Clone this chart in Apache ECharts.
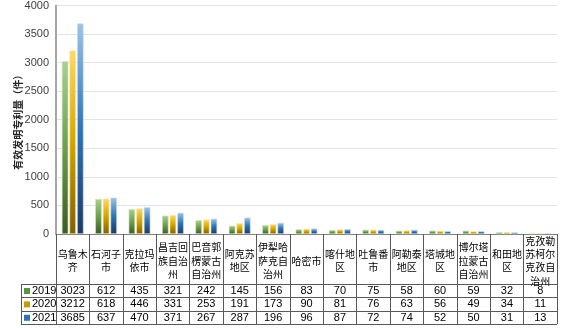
<!DOCTYPE html>
<html>
<head>
<meta charset="utf-8">
<script src="https://cdn.jsdelivr.net/npm/echarts@6/dist/echarts.min.js"></script>
<style>
  html, body { margin: 0; padding: 0; background: #fff; }
  #chart { width: 564px; height: 328px; }
</style>
</head>
<body>
<div id="chart"></div>
<script>
// Regions of Xinjiang (header labels, wrapped every three characters)
const regions = [
  '乌鲁木\n齐', '石河子\n市', '克拉玛\n依市', '昌吉回\n族自治\n州', '巴音郭\n楞蒙古\n自治州',
  '阿克苏\n地区', '伊犁哈\n萨克自\n治州', '哈密市', '喀什地\n区', '吐鲁番\n市',
  '阿勒泰\n地区', '塔城地\n区', '博尔塔\n拉蒙古\n自治州', '和田地\n区', '克孜勒\n苏柯尔\n克孜自\n治州'
];
const years = ['2019', '2020', '2021'];
// Valid invention patents (件)
const patents2019 = [3023, 612, 435, 321, 242, 145, 156, 83, 70, 75, 58, 60, 59, 32, 8];
const patents2020 = [3212, 618, 446, 331, 253, 191, 173, 90, 81, 76, 63, 56, 49, 34, 11];
const patents2021 = [3685, 637, 470, 371, 267, 287, 196, 96, 87, 72, 74, 52, 50, 31, 13];
const yTicks = { min: 0, max: 4000, interval: 500 };

const FONT = '"Liberation Sans", "Noto Sans CJK SC", sans-serif';
const G = { left: 56, right: 7, top: 4, bottom: 94 };
const W = 564, H = 328;
const axisY = H - G.bottom;            // 234
const rowTop = 284, rowH = 13.4;        // data table rows
const tableLeft = 21, tableRight = W - G.right;

const palette = [
  { top: '#a9d18e', mid: '#6e9f4e', bottom: '#3b5c23', key: '#5a9440', edge: '#d3e8c4' },
  { top: '#ffd966', mid: '#d4a500', bottom: '#7f6000', key: '#c99a00', edge: '#ffe9a8' },
  { top: '#9dc3e6', mid: '#2e75b6', bottom: '#1f3864', key: '#2e75b6', edge: '#cfe1f2' }
];
const seriesData = [patents2019, patents2020, patents2021];

function grad(p) {
  return new echarts.graphic.LinearGradient(0, 0, 0, 1, [
    { offset: 0, color: p.top },
    { offset: 0.5, color: p.mid },
    { offset: 1, color: p.bottom }
  ]);
}

// one hidden-line category axis per table row, carrying the row's numbers
const rowAxes = seriesData.map((vals, i) => ({
  type: 'category',
  gridIndex: 0,
  position: 'bottom',
  offset: rowTop + rowH * (i + 0.5) - axisY,
  data: vals.map(String),
  axisLine: { show: false },
  axisTick: { show: false },
  axisLabel: {
    interval: 0, margin: 0, verticalAlign: 'middle',
    fontSize: 11, color: '#000', fontFamily: FONT
  }
}));

const lines = [];
for (let i = 0; i <= 3; i++) {
  const y = Math.round(rowTop + rowH * i) + 0.5;
  lines.push({ type: 'line', shape: { x1: tableLeft, y1: y, x2: tableRight, y2: y },
    style: { stroke: '#595959', lineWidth: 1 }, silent: true });
}
lines.push({ type: 'line', shape: { x1: tableLeft + 0.5, y1: rowTop, x2: tableLeft + 0.5, y2: Math.round(rowTop + rowH * 3) + 1 },
  style: { stroke: '#595959', lineWidth: 1 }, silent: true });

const option = {
  animation: false,
  backgroundColor: '#fff',
  grid: G,
  legend: {
    orient: 'vertical',
    left: tableLeft + 3,
    top: rowTop + 1,
    padding: 0,
    itemWidth: 6, itemHeight: 6,
    itemGap: 1.4,
    icon: 'rect',
    textStyle: { fontSize: 11, color: '#000', fontFamily: FONT, lineHeight: 12, padding: [0, 0, 0, -3] },
    data: years.map((y, i) => ({ name: y, itemStyle: { color: palette[i].key, borderWidth: 0 } }))
  },
  xAxis: [{
    type: 'category',
    data: regions,
    axisLine: { show: true, lineStyle: { color: '#808080', width: 1 } },
    axisTick: { show: true, interval: 0, length: 90, lineStyle: { color: '#595959', width: 1 } },
    axisLabel: {
      interval: 0, margin: 28, verticalAlign: 'middle',
      fontSize: 10, lineHeight: 13.3, color: '#000', fontFamily: FONT
    }
  }].concat(rowAxes),
  yAxis: {
    type: 'value',
    min: yTicks.min, max: yTicks.max, interval: yTicks.interval,
    name: '有效发明专利量（件）',
    nameLocation: 'middle',
    nameRotate: 90,
    nameGap: 32,
    nameMoveOverlap: false,
    nameTextStyle: { fontSize: 10, color: '#262626', fontFamily: FONT, fontWeight: 'bold' },
    axisLine: { show: true, lineStyle: { color: '#a6a6a6', width: 2 } },
    axisTick: { show: false },
    axisLabel: { fontSize: 11, color: '#404040', fontFamily: FONT, margin: 7, formatter: v => String(v) },
    splitLine: { lineStyle: { color: '#e4e4e4', width: 1 } }
  },
  series: years.map((y, i) => ({
    name: y,
    type: 'bar',
    xAxisIndex: 0,
    data: seriesData[i],
    barCategoryGap: '35%',
    barGap: '18%',
    itemStyle: { color: grad(palette[i]), borderColor: palette[i].edge, borderWidth: 0.6 }
  })),
  graphic: lines
};

const chart = echarts.init(document.getElementById('chart'), null, { renderer: 'canvas' });
chart.setOption(option);
</script>
</body>
</html>
